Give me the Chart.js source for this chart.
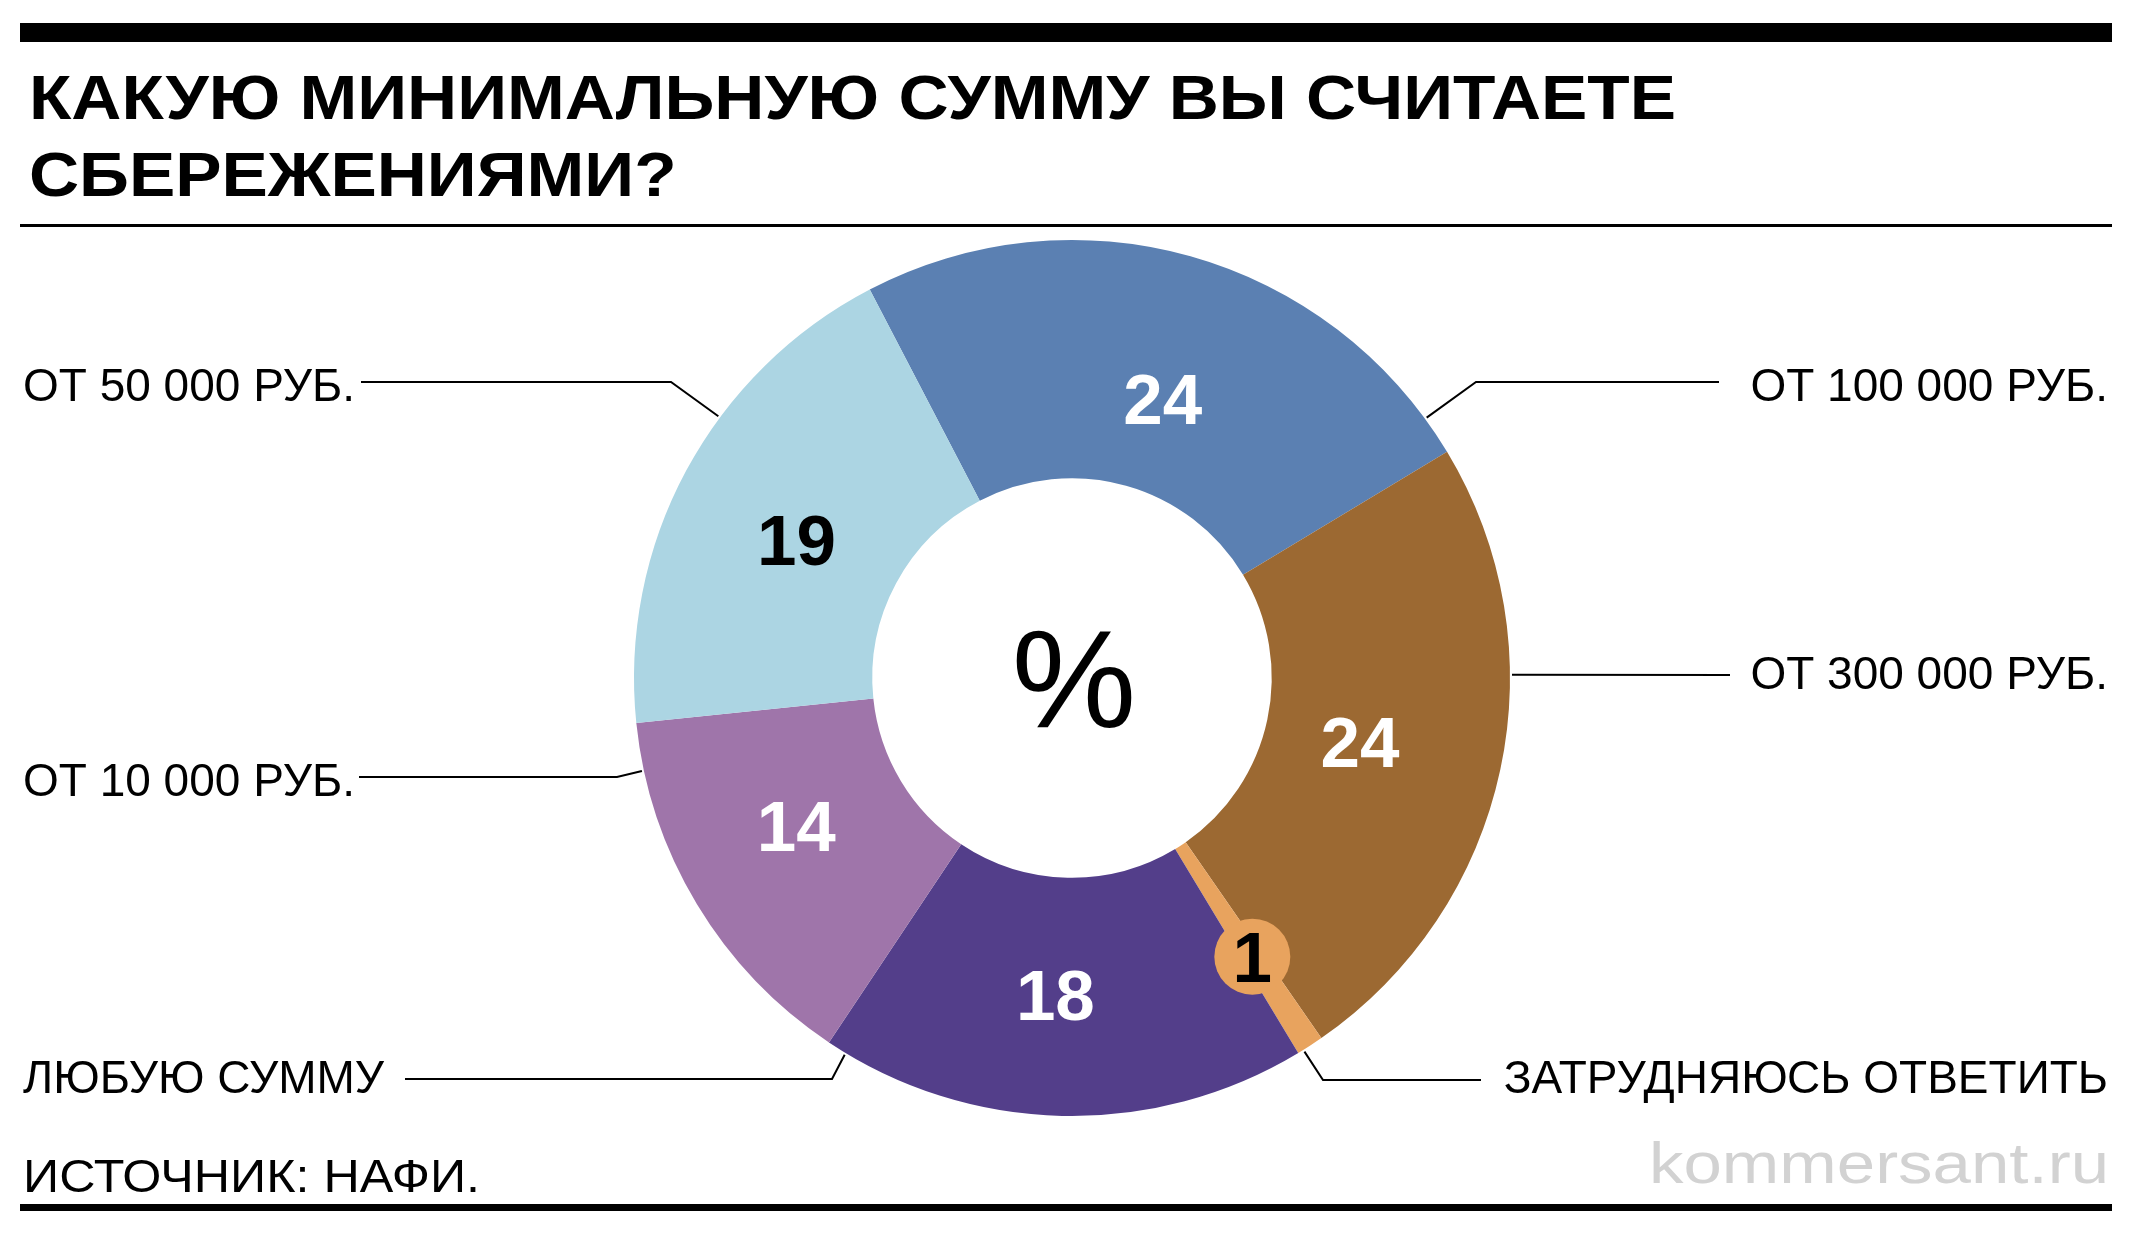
<!DOCTYPE html>
<html lang="ru">
<head>
    <meta charset="UTF-8">
    <title>Какую минимальную сумму вы считаете сбережениями?</title>
    <style>
        html, body { margin: 0; padding: 0; background: #fff; }
        canvas { display: block; }
    </style>
</head>
<body>
    <canvas id="donutChart" width="2134" height="1236"></canvas>
    <script src="https://cdn.jsdelivr.net/npm/chart.js"></script>
    <script>
        // Answers, clockwise starting from the blue slice
        const categories = ['ОТ 100 000 РУБ.', 'ОТ 300 000 РУБ.', 'ЗАТРУДНЯЮСЬ ОТВЕТИТЬ', 'ЛЮБУЮ СУММУ', 'ОТ 10 000 РУБ.', 'ОТ 50 000 РУБ.'];
        const shares = [24, 24, 1, 18, 14, 19];
        const sliceColors = ['#5b80b2', '#9c6932', '#e8a35e', '#533e8a', '#9f75aa', '#acd5e3'];
        const valueColors = ['#ffffff', '#ffffff', '#000000', '#ffffff', '#ffffff', '#000000'];

        const titleLines = ['КАКУЮ МИНИМАЛЬНУЮ СУММУ ВЫ СЧИТАЕТЕ', 'СБЕРЕЖЕНИЯМИ?'];
        const centerText = '%';
        const sourceText = 'ИСТОЧНИК: НАФИ.';
        const siteText = 'kommersant.ru';

        // Where each outside label sits and where its leader line bends
        // (at = point along the slice's arc where the line touches the ring)
        const callouts = [
            { align: 'right', textX: 2108, baseY: 401, lineY: 382, lineEnd: 1719, elbowX: 1476, at: 0.94 },
            { align: 'right', textX: 2108, baseY: 689, lineY: 675, lineEnd: 1730, elbowX: null, at: 0.355 },
            { align: 'right', textX: 2108, baseY: 1093, lineY: 1080, lineEnd: 1481, elbowX: 1323, at: 0.78 },
            { align: 'left', textX: 23, baseY: 1093, lineY: 1079, lineEnd: 405, elbowX: 832, at: 0.96 },
            { align: 'left', textX: 23, baseY: 796, lineY: 777, lineEnd: 359, elbowX: 617, at: 0.875 },
            { align: 'left', textX: 23, baseY: 401, lineY: 382, lineEnd: 361, elbowX: 671, at: 0.62 }
        ];

        // value label placement inside each ring slice:
        // depth = share of ring thickness, turn = degrees off the slice middle
        const valuePlacement = [
            { depth: 0.395, turn: 2.3 },
            { depth: 0.40, turn: 0.4 },
            { depth: 0.555, turn: 0 },
            { depth: 0.495, turn: 1.7 },
            { depth: 0.475, turn: 2.9 },
            { depth: 0.455, turn: -1.7 }
        ];

        const SANS = '"Liberation Sans", Arial, Helvetica, sans-serif';

        // draw text squeezed/stretched to a given width
        function fitText(ctx, text, x, y, width, align) {
            const w = ctx.measureText(text).width;
            const sx = width / w;
            ctx.save();
            ctx.translate(align === 'right' ? x - width : x, y);
            ctx.scale(sx, 1);
            ctx.textAlign = 'left';
            ctx.fillText(text, 0, 0);
            ctx.restore();
        }

        const pagePlugin = {
            id: 'page',
            afterDraw(chart) {
                const ctx = chart.ctx;
                ctx.save();
                ctx.textBaseline = 'alphabetic';

                // rules
                ctx.fillStyle = '#000';
                ctx.fillRect(20, 23, 2092, 19);
                ctx.fillRect(20, 224, 2092, 3);
                ctx.fillRect(20, 1204, 2092, 7);

                // title
                ctx.font = 'bold 63px ' + SANS;
                const sx = 1647 / ctx.measureText(titleLines[0]).width;
                titleLines.forEach((line, i) => {
                    ctx.save();
                    ctx.translate(29, 119 + i * 77);
                    ctx.scale(sx, 1);
                    ctx.fillText(line, 0, 0);
                    ctx.restore();
                });

                // source and site
                ctx.font = '46px ' + SANS;
                fitText(ctx, sourceText, 23, 1192, 457, 'left');
                ctx.fillStyle = '#d2d2d2';
                ctx.font = '57px ' + SANS;
                fitText(ctx, siteText, 2109, 1183, 460, 'right');

                const meta = chart.getDatasetMeta(0);
                const arcs = meta.data.map(a => a.getProps(['x', 'y', 'startAngle', 'endAngle', 'innerRadius', 'outerRadius'], true));

                // centre sign
                ctx.fillStyle = '#000';
                ctx.textAlign = 'center';
                ctx.font = '140px ' + SANS;
                ctx.fillText(centerText, arcs[0].x + 2, arcs[0].y + 49);

                // callouts
                ctx.strokeStyle = '#000';
                ctx.lineWidth = 2;
                arcs.forEach((arc, i) => {
                    const c = callouts[i];
                    const a = arc.startAngle + c.at * (arc.endAngle - arc.startAngle);
                    const r = arc.outerRadius + 2;
                    const px = arc.x + r * Math.cos(a);
                    const py = arc.y + r * Math.sin(a);
                    ctx.beginPath();
                    ctx.moveTo(c.lineEnd, c.lineY);
                    if (c.elbowX !== null) ctx.lineTo(c.elbowX, c.lineY);
                    ctx.lineTo(px, py);
                    ctx.stroke();

                    ctx.font = '46px ' + SANS;
                    ctx.textAlign = c.align;
                    ctx.fillStyle = '#000';
                    ctx.fillText(categories[i], c.textX, c.baseY);
                });

                // values inside the slices
                ctx.textAlign = 'center';
                ctx.font = 'bold 71px ' + SANS;
                arcs.forEach((arc, i) => {
                    const p = valuePlacement[i];
                    const mid = (arc.startAngle + arc.endAngle) / 2 + p.turn * Math.PI / 180;
                    const small = shares[i] < 3;
                    const r = arc.innerRadius + p.depth * (arc.outerRadius - arc.innerRadius);
                    const x = arc.x + r * Math.cos(mid);
                    const y = arc.y + r * Math.sin(mid);
                    if (small) {
                        ctx.fillStyle = sliceColors[i];
                        ctx.beginPath();
                        ctx.arc(x, y, 38, 0, Math.PI * 2);
                        ctx.fill();
                    }
                    ctx.fillStyle = valueColors[i];
                    ctx.fillText(String(shares[i]), x, y + 25);
                });

                ctx.restore();
            }
        };

        const chartContext = document.getElementById('donutChart').getContext('2d');
        const donutChart = new Chart(chartContext, {
            type: 'doughnut',
            data: {
                labels: categories,
                datasets: [{
                    data: shares,
                    backgroundColor: sliceColors,
                    borderWidth: 0,
                    hoverOffset: 0
                }]
            },
            options: {
                responsive: false,
                animation: false,
                events: [],
                devicePixelRatio: 1,
                rotation: -27.5,
                cutout: '45.6%',
                layout: { padding: { top: 240, bottom: 120, left: 634, right: 624 } },
                plugins: {
                    legend: { display: false },
                    tooltip: { enabled: false }
                }
            },
            plugins: [pagePlugin]
        });
    </script>
</body>
</html>
